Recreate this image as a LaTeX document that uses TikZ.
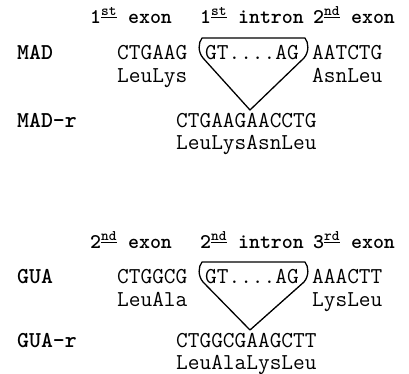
\documentclass[tikz,border=0pt]{standalone}
\usepackage{fontspec}
\begin{document}
\begin{tikzpicture}[x=1bp,y=-1bp,
  txt/.style={inner sep=0pt, anchor=base west, font=\ttfamily\fontsize{22.8}{24}\selectfont},
  lab/.style={txt, font=\ttfamily\bfseries\fontsize{22.8}{24}\selectfont},
  hdr/.style={txt, font=\ttfamily\bfseries\fontsize{21}{24}\selectfont},
  intronbox/.style={draw, line width=1.3bp, line join=round}]
\useasboundingbox (0,0) rectangle (409,374);
% ---- upper block
\node[hdr] (h1) at (90,23) {1\textsuperscript{\underline{st}} exon};
\node[hdr] (h2) at (200,23) {1\textsuperscript{\underline{st}} intron};
\node[hdr] (h3) at (313,23) {2\textsuperscript{\underline{nd}} exon};
\node[lab] (mad) at (17,59) {MAD};
\node[txt] (s1) at (117,59) {CTGAAG};
\node[txt] (i1) at (205,59) {GT....AG};
\node[txt] (e1) at (312,59) {AATCTG};
\node[txt] (a1) at (117,82) {LeuLys};
\node[txt] (b1) at (312,82) {AsnLeu};
\node[lab] (madr) at (17,127) {MAD-r};
\node[txt] (r1) at (176,127) {CTGAAGAACCTG};
\node[txt] (ra1) at (176,149) {LeuLysAsnLeu};
\coordinate (apex1) at (250,110);
\draw[intronbox] (203,58) .. controls (198,52) and (198,43) .. (202,38) -- (305,38)
  .. controls (309,43) and (309,52) .. (304,58) -- (apex1) -- cycle;
% ---- lower block
\node[hdr] (h4) at (90,248) {2\textsuperscript{\underline{nd}} exon};
\node[hdr] (h5) at (200,248) {2\textsuperscript{\underline{nd}} intron};
\node[hdr] (h6) at (313,248) {3\textsuperscript{\underline{rd}} exon};
\node[lab] (gua) at (17,283) {GUA};
\node[txt] (s2) at (117,283) {CTGGCG};
\node[txt] (i2) at (205,283) {GT....AG};
\node[txt] (e2) at (312,283) {AAACTT};
\node[txt] (a2) at (117,306) {LeuAla};
\node[txt] (b2) at (312,306) {LysLeu};
\node[lab] (guar) at (17,347) {GUA-r};
\node[txt] (r2) at (176,347) {CTGGCGAAGCTT};
\node[txt] (ra2) at (176,369) {LeuAlaLysLeu};
\coordinate (apex2) at (250,330);
\draw[intronbox] (203,282) .. controls (198,276) and (198,267) .. (202,262) -- (305,262)
  .. controls (309,267) and (309,276) .. (304,282) -- (apex2) -- cycle;
\end{tikzpicture}
\end{document}
